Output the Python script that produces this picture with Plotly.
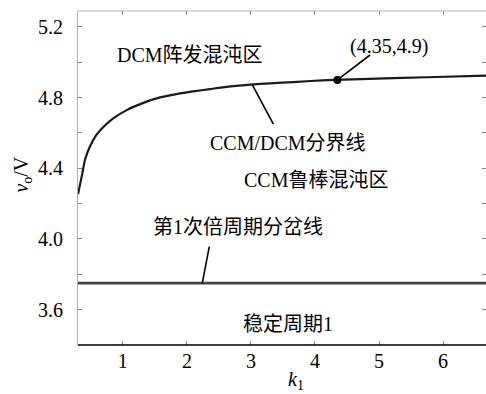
import plotly.graph_objects as go

# CCM/DCM boundary curve, sampled along k1
k_boundary = [0.30, 0.36, 0.41, 0.49, 0.59, 0.70, 0.85, 1.06, 1.32, 1.58,
              1.84, 2.10, 2.36, 2.62, 2.99, 3.30, 3.66, 4.19, 4.97, 5.75, 6.67]
v_boundary = [4.253, 4.357, 4.450, 4.526, 4.590, 4.635, 4.682, 4.729, 4.770, 4.801,
              4.820, 4.835, 4.848, 4.861, 4.873, 4.881, 4.888, 4.899, 4.907, 4.915, 4.924]

# first period-doubling bifurcation line
k_pd = [0.30, 6.67]
v_pd = [3.75, 3.75]

# highlighted point on the boundary
k_point = [4.35]
v_point = [4.9]

x_ticks = [1, 2, 3, 4, 5, 6]
y_ticks = [3.6, 4.0, 4.4, 4.8, 5.2]
y_tick_text = ["3.6", "4.0", "4.4", "4.8", "5.2"]
y_minor_ticks = [3.4, 3.8, 4.2, 4.6, 5.0]

FONT = "Liberation Serif, Times New Roman, Noto Sans CJK SC, serif"
FS = 20

fig = go.Figure()
fig.add_trace(go.Scatter(x=k_pd, y=v_pd, mode="lines",
                         line=dict(color="#444444", width=2.6), hoverinfo="skip"))
fig.add_trace(go.Scatter(x=k_boundary, y=v_boundary, mode="lines",
                         line=dict(color="#1a1a1a", width=2.2, shape="spline", smoothing=0.5),
                         hoverinfo="skip"))
fig.add_trace(go.Scatter(x=k_point, y=v_point, mode="markers",
                         marker=dict(color="black", size=8), hoverinfo="skip"))

# leader lines from labels to curves
leaders = [
    (k_point[0], v_point[0], 4.86, 5.041),
    (3.02, 4.873, 3.35, 4.65),
    (2.35, 3.957, 2.24, 3.75),
]
for x0, y0, x1, y1 in leaders:
    fig.add_shape(type="line", x0=x0, y0=y0, x1=x1, y1=y1, xref="x", yref="y",
                  line=dict(color="black", width=1.6))

# frame: black bottom, light top
fig.add_shape(type="line", x0=0, x1=1, y0=0, y1=0, xref="paper", yref="paper",
              line=dict(color="black", width=1.5))
fig.add_shape(type="line", x0=0, x1=1, y0=1, y1=1, xref="paper", yref="paper",
              line=dict(color="#b0b0b0", width=1))

labels = [
    ("DCM阵发混沌区", 2.05, 5.04),
    ("(4.35,4.9)", 5.16, 5.087),
    ("CCM/DCM分界线", 3.58, 4.542),
    ("CCM鲁棒混沌区", 4.02, 4.332),
    ("第1次倍周期分岔线", 2.80, 4.065),
    ("稳定周期1", 3.58, 3.52),
]
for text, x, y in labels:
    fig.add_annotation(text=text, x=x, y=y, xref="x", yref="y", showarrow=False,
                       font=dict(family=FONT, size=FS, color="black"),
                       xanchor="center", yanchor="middle")

# axis titles
fig.add_annotation(text="<i>v</i><sub>o</sub>/V", x=-0.135, y=0.51, xref="paper", yref="paper",
                   showarrow=False, textangle=-90, font=dict(family=FONT, size=FS, color="black"),
                   xanchor="center", yanchor="middle")
fig.add_annotation(text="<i>k</i><sub>1</sub>", x=0.535, y=-0.105, xref="paper", yref="paper",
                   showarrow=False, font=dict(family=FONT, size=FS, color="black"),
                   xanchor="center", yanchor="middle")

fig.update_layout(
    width=486, height=394,
    margin=dict(l=78, r=0, t=11, b=49),
    paper_bgcolor="white", plot_bgcolor="white",
    showlegend=False,
    font=dict(family=FONT, size=FS, color="black"),
)
fig.update_xaxes(range=[0.3, 6.67], tickvals=x_ticks, ticks="inside", ticklen=4,
                 tickcolor="#888888", tickwidth=1, showline=False, mirror="ticks",
                 showgrid=False, zeroline=False, ticklabelstandoff=2,
                 tickfont=dict(family=FONT, size=FS))
fig.update_yaxes(range=[3.4, 5.29], tickvals=y_ticks, ticktext=y_tick_text, ticks="inside",
                 ticklen=4, tickcolor="#888888", tickwidth=1, showline=True,
                 linecolor="#b0b0b0", linewidth=1, mirror="ticks",
                 minor=dict(tickvals=y_minor_ticks, ticks="inside", ticklen=4,
                            tickcolor="#888888", tickwidth=1, showgrid=False),
                 showgrid=False, zeroline=False, ticklabelstandoff=10,
                 tickfont=dict(family=FONT, size=FS))

fig.write_html("out.html")
